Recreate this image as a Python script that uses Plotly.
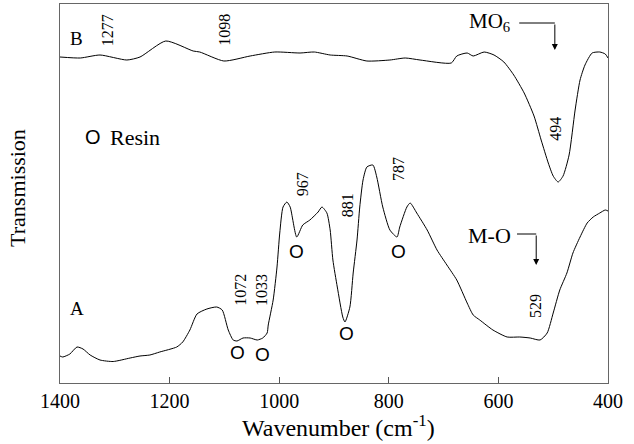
import plotly.graph_objects as go

# Curve B (top spectrum) — wavenumber (cm-1) and transmission (a.u.)
wn_b = [1400, 1363, 1327, 1278, 1254, 1207, 1157, 1145, 1101, 1053, 1008, 962, 936, 907,
        876, 840, 798, 770, 743, 686, 676, 657, 646, 626, 608, 590, 572, 553, 535, 522,
        509, 500, 491, 482, 471, 460, 451, 442, 429, 415, 405, 400]
t_b = [326, 325, 328, 323, 326, 342, 332, 331, 322, 327, 331, 330, 331, 328,
       327, 322, 323, 325, 323, 320, 327, 330, 327, 331, 328, 321, 308, 290, 267, 243,
       220, 207, 201, 207, 228, 273, 303, 318, 330, 331, 329, 325]

# Curve A (bottom spectrum)
wn_a = [1400, 1395, 1382, 1369, 1358, 1345, 1327, 1303, 1272, 1254, 1236, 1218, 1187, 1176,
        1163, 1150, 1132, 1114, 1104, 1093, 1084, 1077, 1066, 1053, 1040, 1030, 1022, 1020,
        1011, 1004, 999, 993, 986, 980, 968, 957, 944, 929, 922, 913, 907, 902, 894, 884,
        880, 871, 865, 858, 853, 847, 840, 829, 822, 811, 798, 785, 780, 767, 761, 749,
        730, 712, 694, 676, 657, 646, 634, 610, 584, 561, 542, 524, 511, 500, 488, 475,
        464, 451, 438, 427, 415, 405, 400]
t_a = [27, 26, 29, 36, 34, 28, 23, 21.5, 25, 27, 28, 31, 36, 41,
       53, 69, 74, 76, 73, 53, 43, 42, 45, 45, 43, 45, 50, 58,
       83, 116, 150, 176, 181, 176, 146, 158, 163, 171, 176, 170, 153, 123, 96, 66,
       61, 76, 110, 143, 176, 203, 216, 218, 206, 176, 153, 146, 156, 176, 180, 170,
       153, 133, 118, 103, 80, 68, 63, 53, 46, 46, 45, 43, 50, 70, 93, 110,
       130, 146, 160, 166, 170, 173, 172]

tick_vals = [1400, 1200, 1000, 800, 600, 400]
tick_text = ["1400", "1200", "1000", "800", "600", "400"]

# peak labels: (text, wavenumber, transmission)
peak_labels = [("1277", 1314, 353), ("1098", 1101, 353), ("494", 497, 254),
               ("967", 958, 199), ("881", 876, 178), ("787", 783, 214),
               ("1072", 1072, 93), ("1033", 1033, 93), ("529", 533, 77)]
# resin markers "O"
resin_marks = [(1077, 31), (1030, 29), (968, 132), (878, 50), (783, 132)]

SERIF = "Liberation Serif"
SANS = "Liberation Sans"

fig = go.Figure()
fig.add_trace(go.Scatter(x=wn_b, y=t_b, mode="lines",
                         line=dict(color="black", width=1, shape="spline", smoothing=0.6),
                         showlegend=False, hoverinfo="skip"))
fig.add_trace(go.Scatter(x=wn_a, y=t_a, mode="lines",
                         line=dict(color="black", width=1, shape="spline", smoothing=0.6),
                         showlegend=False, hoverinfo="skip"))

ann = []
for txt, x, y in peak_labels:
    ann.append(dict(x=x, y=y, text=txt, showarrow=False, textangle=-90,
                    font=dict(family=SERIF, size=16, color="black")))
for x, y in resin_marks:
    ann.append(dict(x=x, y=y, text="O", showarrow=False,
                    font=dict(family=SANS, size=19, color="black")))

ann += [
    dict(x=1369, y=345, text="B", showarrow=False, font=dict(family=SERIF, size=19, color="black")),
    dict(x=1369, y=75, text="A", showarrow=False, font=dict(family=SERIF, size=19, color="black")),
    dict(x=1340, y=246, text="O", showarrow=False, font=dict(family=SANS, size=20, color="black")),
    dict(x=1312, y=246, text="Resin", showarrow=False, xanchor="left",
         font=dict(family=SERIF, size=22, color="black")),
    dict(x=617, y=361, text="MO<sub>6</sub>", showarrow=False,
         font=dict(family=SERIF, size=21, color="black")),
    dict(x=617, y=148, text="M-O", showarrow=False,
         font=dict(family=SERIF, size=22, color="black")),
    # arrow heads
    dict(x=497, y=333, ax=497, ay=360, axref="x", ayref="y", xref="x", yref="y",
         text="", showarrow=True, arrowhead=2, arrowsize=1.2, arrowwidth=1, arrowcolor="black"),
    dict(x=531, y=118, ax=531, ay=149, axref="x", ayref="y", xref="x", yref="y",
         text="", showarrow=True, arrowhead=2, arrowsize=1.2, arrowwidth=1, arrowcolor="black"),
    # axis titles
    dict(xref="paper", yref="paper", x=0.508, y=-0.068, yanchor="top", text="Wavenumber (cm<sup>-1</sup>)",
         showarrow=False, font=dict(family=SERIF, size=24, color="black")),
    dict(xref="paper", yref="paper", x=-0.05, y=0.515, xanchor="right", textangle=-90, text="Transmission",
         showarrow=False, font=dict(family=SERIF, size=22, color="black")),
]

shapes = [
    dict(type="line", x0=562, x1=497, y0=360, y1=360, line=dict(color="black", width=1)),
    dict(type="line", x0=566, x1=531, y0=149, y1=149, line=dict(color="black", width=1)),
]

fig.update_layout(
    width=634, height=444,
    margin=dict(l=60, r=26, t=4, b=61),
    plot_bgcolor="white", paper_bgcolor="white",
    annotations=ann, shapes=shapes,
    xaxis=dict(range=[1400, 400], tickvals=tick_vals, ticktext=tick_text, automargin=False,
               ticks="inside", ticklen=6, tickcolor="#555", showgrid=False, zeroline=False,
               showline=True, linecolor="#666", linewidth=1, mirror=True,
               tickfont=dict(family=SERIF, size=20, color="black")),
    yaxis=dict(range=[0, 379], showticklabels=False, ticks="", showgrid=False, zeroline=False,
               automargin=False,
               showline=True, linecolor="#666", linewidth=1, mirror=True),
)

fig.write_html("out.html", config={"displayModeBar": False},
               post_script="document.body.style.margin='0';document.body.style.padding='0';")
